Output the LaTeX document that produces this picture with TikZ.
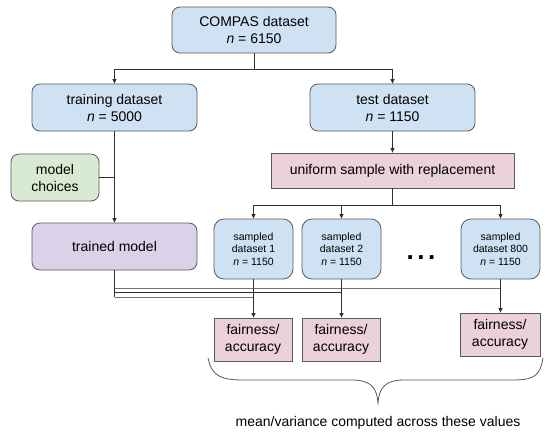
\documentclass[tikz,border=0pt]{standalone}
\usepackage{fontspec}
\setmainfont{Liberation Sans}
\usetikzlibrary{arrows.meta}
\definecolor{bluefill}{HTML}{CFE2F3}
\definecolor{greenfill}{HTML}{D9EAD3}
\definecolor{purplefill}{HTML}{D9D2E9}
\definecolor{pinkfill}{HTML}{EAD1DC}
\definecolor{bordercol}{HTML}{595959}
\definecolor{linecol}{HTML}{303030}
\tikzset{
  box/.style={draw=bordercol, line width=0.8pt, align=center, inner sep=0pt,
    font=\fontsize{14}{17}\selectfont},
  roundbox/.style={box, rounded corners=8pt},
  bluebox/.style={roundbox, fill=bluefill, minimum width=164pt, minimum height=46pt},
  smallbox/.style={box, rounded corners=10pt, fill=bluefill, minimum width=79pt, minimum height=60pt,
    font=\fontsize{10.5}{12.5}\selectfont},
  pinkbox/.style={box, fill=pinkfill},
  conn/.style={draw=linecol, line width=0.7pt},
  arr/.style={conn, -{Triangle[length=4.5pt,width=4pt]}},
  gconn/.style={draw=gray!90!black, line width=0.7pt},
}
\begin{document}
\begin{tikzpicture}[x=1pt,y=-1pt]
\useasboundingbox (0,0) rectangle (545,432);
% nodes
\node[bluebox] (compas) at (254,30) {COMPAS dataset\\\textit{n} = 6150};
\node[bluebox, minimum width=165pt, minimum height=47pt] (train) at (114.5,107.5) {training dataset\\\textit{n} = 5000};
\node[bluebox, minimum width=165pt, minimum height=47pt] (test) at (392.5,107.5) {test dataset\\\textit{n} = 1150};
\node[roundbox, fill=greenfill, minimum width=88pt, minimum height=47pt] (mc) at (55,177.5) {model\\choices};
\node[roundbox, fill=purplefill, minimum width=165pt, minimum height=47pt] (tm) at (114.5,246.5) {trained model};
\node[pinkbox, minimum width=243pt, minimum height=35pt] (unif) at (392.5,170.5) {uniform sample with replacement};
\node[smallbox] (s1) at (253.5,249) {sampled\\dataset 1\\\textit{n} = 1150};
\node[smallbox] (s2) at (341.5,249) {sampled\\dataset 2\\\textit{n} = 1150};
\node[smallbox] (s800) at (500.5,249) {sampled\\dataset 800\\\textit{n} = 1150};
\node[font=\fontsize{26}{26}\selectfont\bfseries, inner sep=0pt] (dots) at (421,258) {.\hspace{3.5pt}.\hspace{3.5pt}.};
\node[pinkbox, minimum width=78pt, minimum height=43pt] (f1) at (253,339.5) {fairness/\\accuracy};
\node[pinkbox, minimum width=78pt, minimum height=43pt] (f2) at (341,339.5) {fairness/\\accuracy};
\node[pinkbox, minimum width=80pt, minimum height=43pt] (f3) at (500,334.5) {fairness/\\accuracy};
\node[font=\fontsize{14}{17}\selectfont, inner sep=0pt] (note) at (378,423) {mean/variance computed across these values};
% helper coordinates
\coordinate (ya) at (0,69);
\coordinate (yb) at (0,205);
\coordinate (yA) at (0,288);
\coordinate (yB) at (0,292.5);
\coordinate (yC) at (0,297);
% connectors top
\draw[conn] (compas.south) -- (compas.south |- ya);
\draw[arr] (compas.south |- ya) -| (train.north);
\draw[arr] (compas.south |- ya) -| (test.north);
\draw[arr] (test.south) -- (unif.north -| test.south);
\draw[arr] (train.south) -- (tm.north -| train.south);
\draw[conn] (mc.east) -- (mc.east -| train.south);
% sampling
\draw[conn] (unif.south) -- (unif.south |- yb);
\draw[arr] (unif.south |- yb) -| (s1.north);
\draw[arr] (unif.south |- yb) -| (s2.north);
\draw[arr] (unif.south |- yb) -| (s800.north);
% combining trained model with samples
\draw[conn] (tm.south) -- (tm.south |- yC);
\draw[gconn] (tm.south |- yA) -- (s800.south |- yA);
\draw[conn] (tm.south |- yB) -- (s2.south |- yB);
\draw[gconn] (tm.south |- yC) -- (s1.south |- yC);
\draw[arr] (s1.south) -- (f1.north -| s1.south);
\draw[arr] (s2.south) -- (f2.north -| s2.south);
\draw[arr] (s800.south) -- (f3.north -| s800.south);
% brace
\draw[draw=bordercol, line width=0.8pt] (208,358) .. controls (212,377) and (222,380) .. (245,380) -- (352,380)
  .. controls (371,380) and (377,388) .. (378,403)
  .. controls (379,388) and (385,380) .. (404,380) -- (512,380)
  .. controls (534,380) and (540,376) .. (543,358);
\end{tikzpicture}
\end{document}
